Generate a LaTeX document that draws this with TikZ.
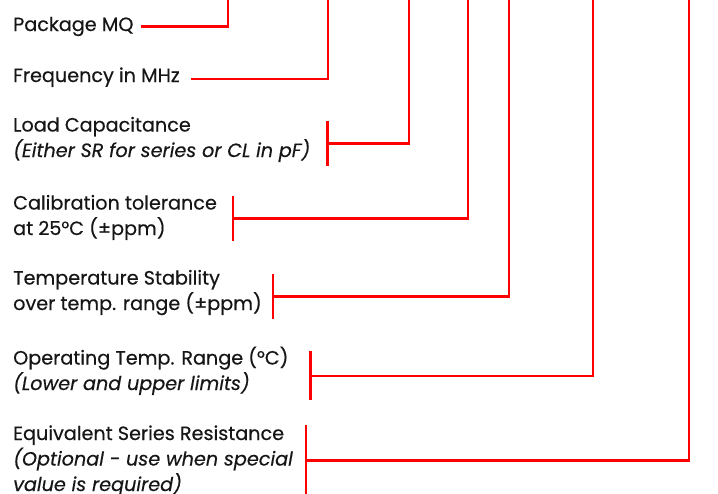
\documentclass[tikz,border=0pt]{standalone}
\usepackage{fontspec}
\setmainfont[FakeBold=0.4]{Poppins}
\usetikzlibrary{positioning}
\definecolor{leadred}{RGB}{255,0,0}
\definecolor{labelink}{RGB}{22,22,22}
\tikzset{
  label text/.style={anchor=base west, inner sep=0pt, text=labelink, align=left,
    font=\fontsize{19.2}{25.5}\selectfont},
  lead/.style={draw=leadred, line width=2.4pt},
}

\begin{document}
\begin{tikzpicture}[x=1pt, y=-1pt]
        \useasboundingbox (0,0) rectangle (718,493);
        \node[label text] (pkg)  at (13,31)  {Package MQ};
        \node[label text] (frq)  at (13,82)  {Frequency in MHz};
        \node[label text] (lcap) at (13,157) {Load Capacitance\\\textit{(Either SR for series or CL in pF)}};
        \node[label text] (cal)  at (13,235) {Calibration tolerance\\at 25°C (±ppm)};
        \node[label text] (stab) at (13,310) {Temperature Stability\\over temp. range (±ppm)};
        \node[label text] (otr)  at (13,390) {Operating Temp. Range (°C)\\\textit{(Lower and upper limits)}};
        \node[label text] (esr)  at (13,491) {Equivalent Series Resistance\\\textit{(Optional - use when special}\\\textit{value is required)}};
        \foreach \n/\x in {pkg/228, frq/328, lcap/409, cal/468, stab/509, otr/593, esr/689} {
            \coordinate (top-\n) at (\x,-2);
        }
        \foreach \n/\g/\d in {pkg/7/0, frq/11/-2} {
            \draw[lead] ([shift={(\g pt,\d pt)}]\n.east) -| (top-\n);
        }
        \foreach \n/\g/\d in {lcap/17/-4, cal/16/-1, stab/11/-4, otr/22/-5, esr/13/0} {
            \draw[lead] ([shift={(\g pt,\d pt)}]\n.north east) -- ([shift={(\g pt,\d pt)}]\n.south east);
            \draw[lead] ([shift={(\g pt,\d pt)}]\n.east) -| (top-\n);
        }
    \end{tikzpicture}
\end{document}
